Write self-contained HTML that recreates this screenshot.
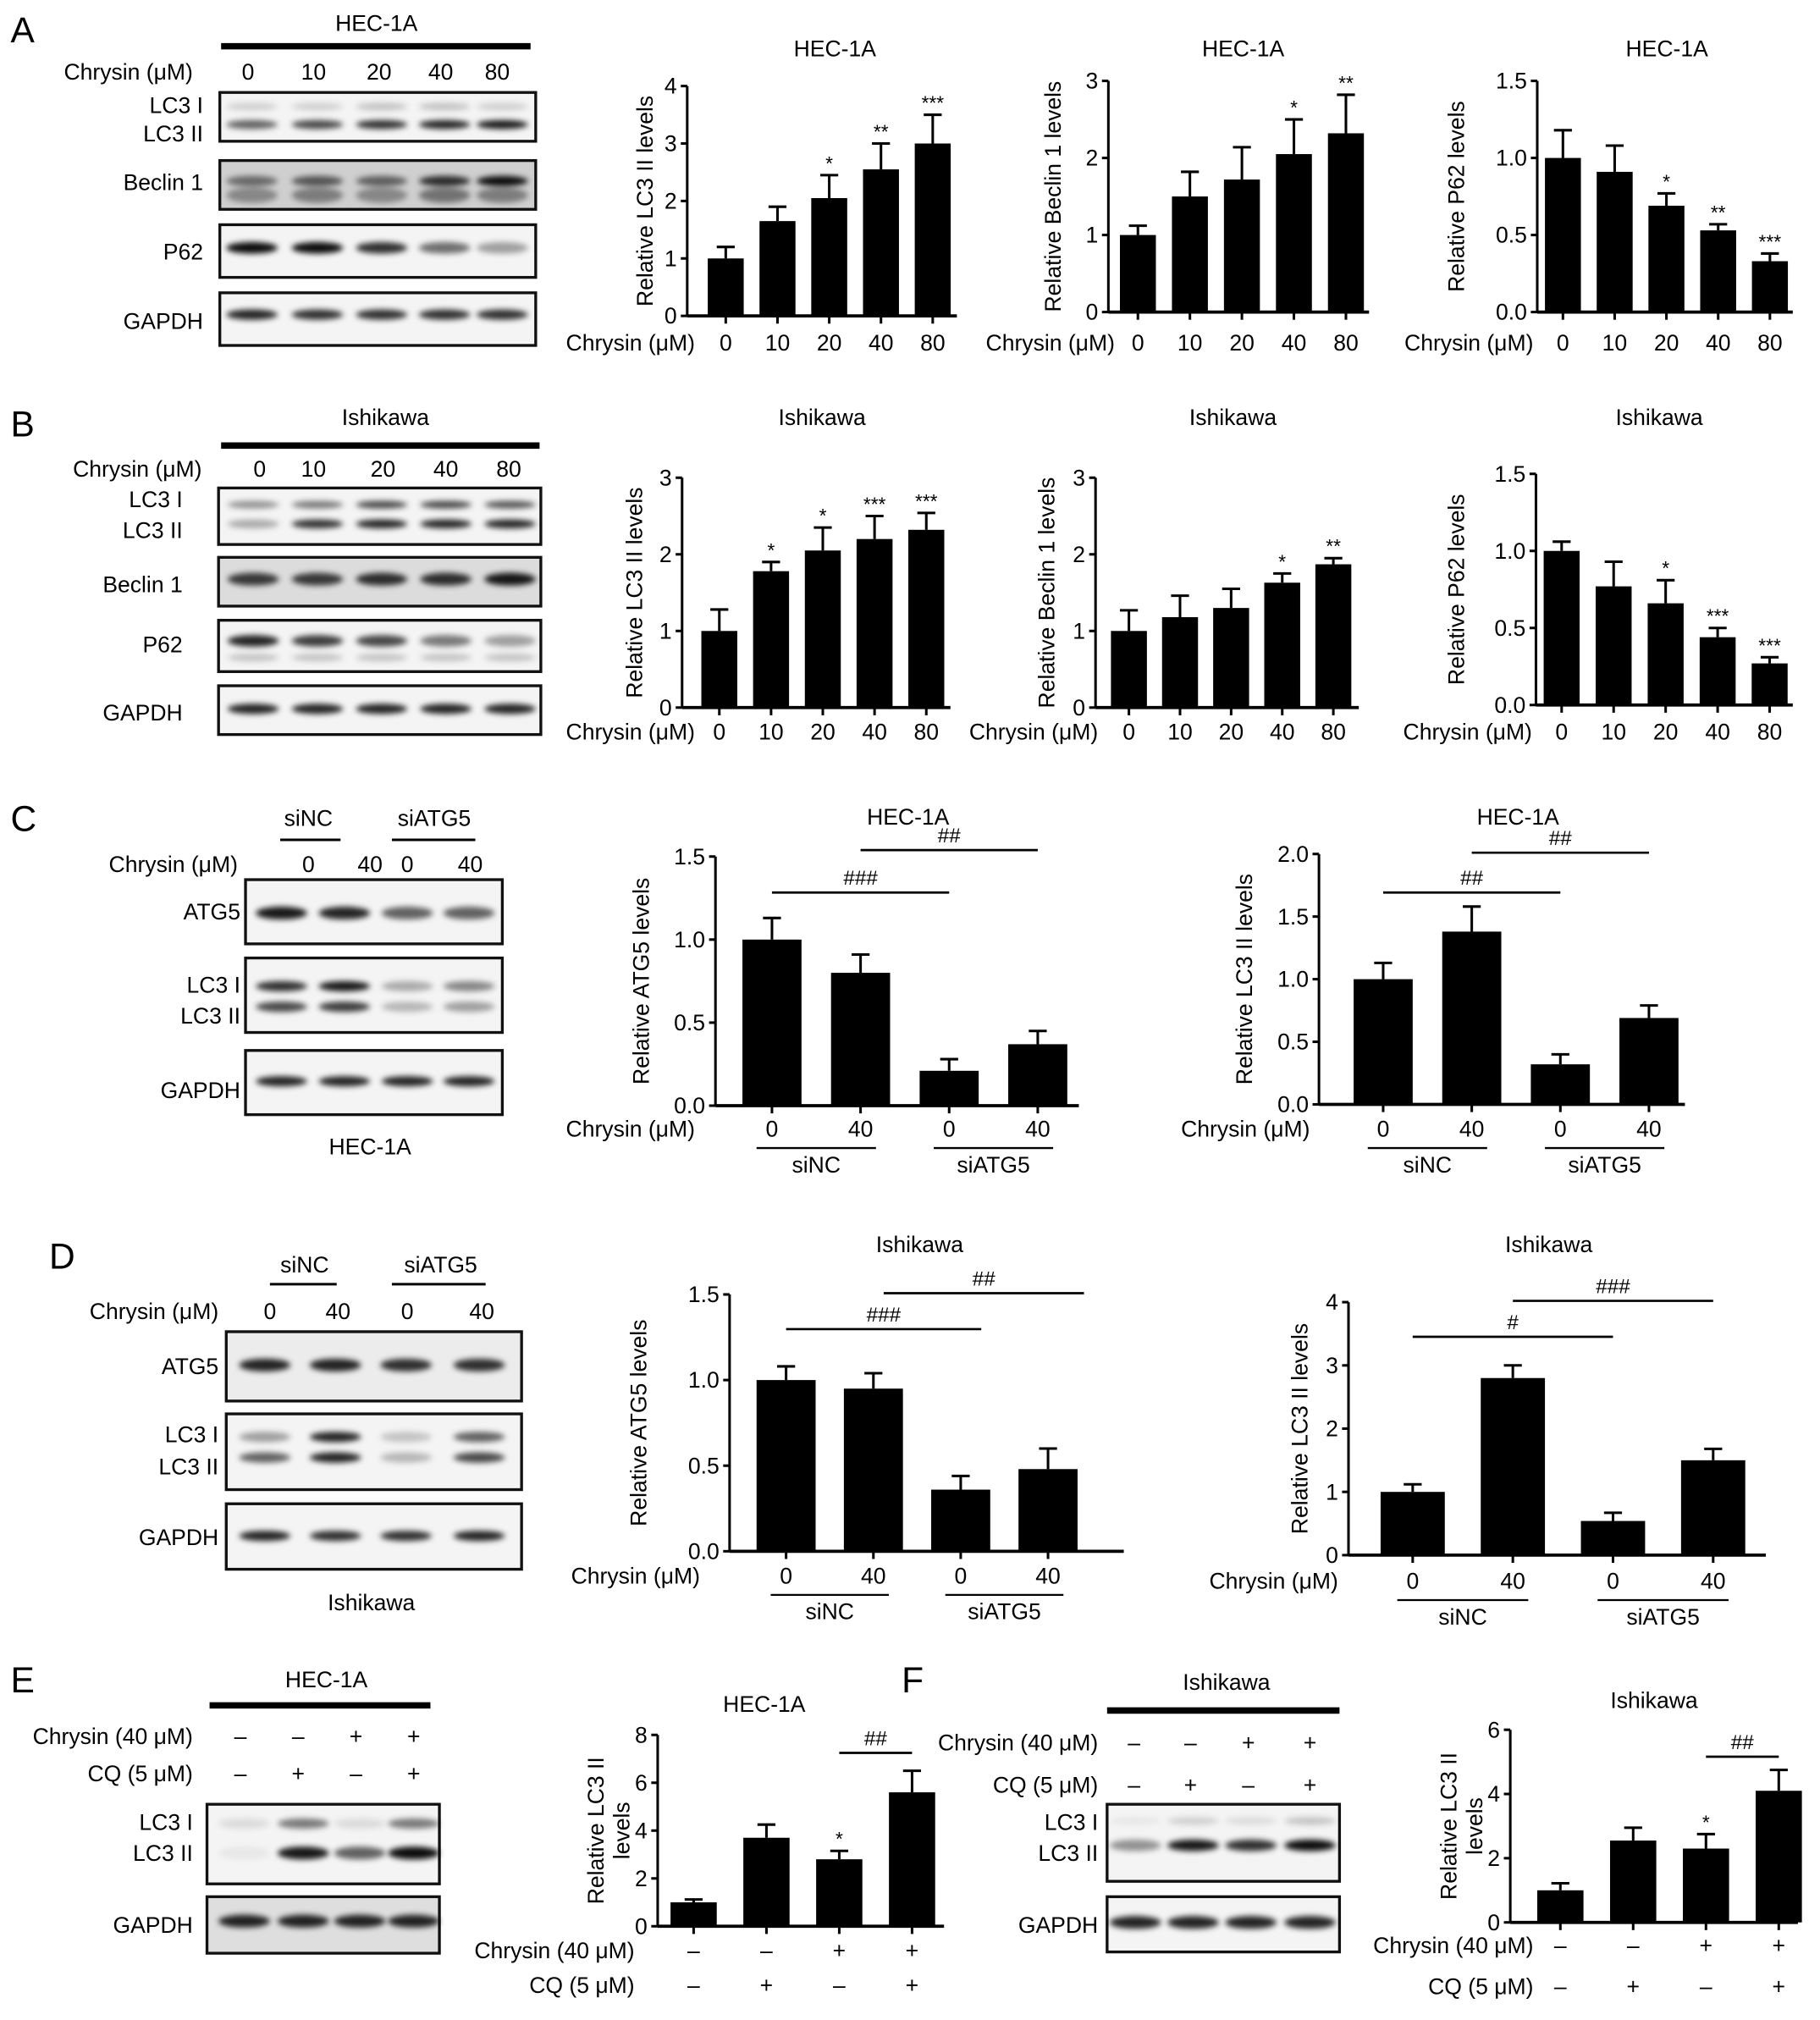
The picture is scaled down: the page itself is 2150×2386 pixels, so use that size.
<!DOCTYPE html>
<html><head><meta charset="utf-8"><style>
html,body{margin:0;padding:0;background:#fff;}
svg{display:block;font-family:"Liberation Sans",sans-serif;}
</style></head><body>
<svg id="fig" width="2150" height="2386" viewBox="0 0 1417 1573" xmlns="http://www.w3.org/2000/svg">
<defs><filter id="bl" x="-20%" y="-100%" width="140%" height="300%"><feGaussianBlur stdDeviation="2.2"/></filter></defs>
</svg>
<script>
// ---------- data ----------
const doseCats = ['0','10','20','40','80'];
const a1Vals = [1.0,1.65,2.05,2.55,3.0];   const a1Errs = [0.2,0.25,0.4,0.45,0.5];   const a1Sig = ['','','*','**','***'];
const a2Vals = [1.0,1.5,1.72,2.05,2.32];   const a2Errs = [0.12,0.32,0.42,0.45,0.5]; const a2Sig = ['','','','*','**'];
const a3Vals = [1.0,0.91,0.69,0.53,0.33];  const a3Errs = [0.18,0.17,0.08,0.04,0.05]; const a3Sig = ['','','*','**','***'];
const b1Vals = [1.0,1.78,2.05,2.2,2.32];   const b1Errs = [0.28,0.12,0.3,0.3,0.22];  const b1Sig = ['','*','*','***','***'];
const b2Vals = [1.0,1.18,1.3,1.63,1.87];   const b2Errs = [0.27,0.28,0.25,0.12,0.08]; const b2Sig = ['','','','*','**'];
const b3Vals = [1.0,0.77,0.66,0.44,0.27];  const b3Errs = [0.06,0.16,0.15,0.06,0.04]; const b3Sig = ['','','*','***','***'];
const siCats = ['0','40','0','40'];
const c1Vals = [1.0,0.8,0.21,0.37];  const c1Errs = [0.13,0.11,0.07,0.08];
const c2Vals = [1.0,1.38,0.32,0.69]; const c2Errs = [0.13,0.2,0.08,0.1];
const d1Vals = [1.0,0.95,0.36,0.48]; const d1Errs = [0.08,0.09,0.08,0.12];
const d2Vals = [1.0,2.8,0.54,1.5];   const d2Errs = [0.12,0.2,0.13,0.18];
const eVals = [1.0,3.7,2.8,5.6];     const eErrs = [0.12,0.55,0.35,0.9]; const eSig = ['','','*',''];
const fVals = [1.0,2.55,2.3,4.1];    const fErrs = [0.22,0.4,0.45,0.65]; const fSig = ['','','*',''];
const chrySigns = ['–','–','+','+'];
const cqSigns = ['–','+','–','+'];
const ticks4 = [0,1,2,3,4], ticks3 = [0,1,2,3], ticks15 = [0,0.5,1.0,1.5], ticks2 = [0,0.5,1.0,1.5,2.0], ticks8 = [0,2,4,6,8], ticks6 = [0,2,4,6];

const svg = document.getElementById('fig');
const NS = 'http://www.w3.org/2000/svg';
function mk(tag, attrs, parent){const e=document.createElementNS(NS,tag);for(const k in attrs)e.setAttribute(k,attrs[k]);(parent||svg).appendChild(e);return e;}
function txt(x,y,s,size,anchor,name,extra){const t=mk('text',Object.assign({x:x,y:y,'font-size':size||17.5,'text-anchor':anchor||'middle',fill:'#000'},extra||{}));t.textContent=s;return t;}
function line(x1,y1,x2,y2,w,name){const l=mk('line',{x1:x1,y1:y1,x2:x2,y2:y2,stroke:'#000','stroke-width':w||2});return l;}

function chart(c){
  const g=mk('g',{});
  
  
  const y=v=>c.bot-(v/c.max)*(c.bot-c.top);
  const bx=i=>c.x0+i*c.step;
  if(c.title) txt(c.titleX,c.titleY,c.title,17.5,'middle',c.name+'-title');
  line(c.ax,c.top,c.ax,c.bot,2,c.name+'-y-axis');
  line(c.ax,c.bot,c.xEnd,c.bot,2.5,c.name+'-x-axis');
  c.ticks.forEach(t=>{line(c.ax-5,y(t),c.ax,y(t),2,'y-tick');txt(c.ax-8,y(t)+6,c.fmt(t),17.5,'end','y-tick-label');});
  const ym=(c.top+c.bot)/2;
  c.ylabel.forEach((s,k)=>{const t=txt(c.ylx+k*20,ym,s,17.5,'middle','y-axis-title');t.setAttribute('transform','rotate(-90 '+(c.ylx+k*20)+' '+ym+')');});
  c.vals.forEach((v,i)=>{
    const x=bx(i);
    const r=mk('rect',{x:x-c.bw/2,y:y(v),width:c.bw,height:c.bot-y(v),fill:'#000'},g);
    
    
    const et=y(v+c.errs[i]);
    line(x,y(v),x,et,2,'error-bar');
    line(x-7,et,x+7,et,2,'error-cap');
    line(x,c.bot,x,c.bot+6,2,'x-tick');
    if(c.sig&&c.sig[i]) txt(x,et-4,c.sig[i],15,'middle','significance-mark');
    if(c.xlab) txt(x,c.xlabY,c.xlab[i],17.5,'middle','x-tick-label');
  });
  if(c.xtitle) txt(c.xtitleX,c.xlabY+(c.xtitleDy||0),c.xtitle,17.5,'end','x-axis-title');
  if(c.groups){
    c.groups.forEach(gr=>{const a=bx(gr.i)-12,b=bx(gr.i+1)+12;line(a,c.xlabY+9,b,c.xlabY+9,1.5,'group-line');txt((a+b)/2,c.xlabY+28,gr.t,17.5,'middle','group-label');});
  }
  if(c.brackets){
    c.brackets.forEach(br=>{const a=bx(br.i)+(br.da||0),b=bx(br.j)+(br.db||0);line(a,br.y,b,br.y,1.8,'comparison-line');txt((a+b)/2,br.y-6,br.t,16,'middle','comparison-label');});
  }
  if(c.rows){
    c.rows.forEach(rw=>{txt(c.xtitleX,rw.y,rw.t,17.5,'end','condition-label');rw.s.forEach((s,i)=>txt(bx(i),rw.y,s,17.5,'middle','condition-sign'));});
  }
}
const f0=t=>String(t), f1=t=>t.toFixed(1);

chart({name:'chart-a-lc3',ax:535,top:67,bot:246,max:4,ticks:ticks4,fmt:f0,x0:565,step:40.3,bw:28,xEnd:745,vals:a1Vals,errs:a1Errs,sig:a1Sig,xlab:doseCats,xlabY:273,xtitle:'Chrysin (μM)',xtitleX:541,title:'HEC-1A',titleX:650,titleY:44,ylabel:['Relative LC3 II levels'],ylx:508});
chart({name:'chart-a-beclin',ax:863,top:63,bot:243,max:3,ticks:ticks3,fmt:f0,x0:886,step:40.5,bw:28,xEnd:1066,vals:a2Vals,errs:a2Errs,sig:a2Sig,xlab:doseCats,xlabY:273,xtitle:'Chrysin (μM)',xtitleX:868,title:'HEC-1A',titleX:968,titleY:44,ylabel:['Relative Beclin 1 levels'],ylx:826});
chart({name:'chart-a-p62',ax:1197,top:63,bot:243,max:1.5,ticks:ticks15,fmt:f1,x0:1217,step:40.3,bw:28,xEnd:1396,vals:a3Vals,errs:a3Errs,sig:a3Sig,xlab:doseCats,xlabY:273,xtitle:'Chrysin (μM)',xtitleX:1194,title:'HEC-1A',titleX:1298,titleY:44,ylabel:['Relative P62 levels'],ylx:1140});
chart({name:'chart-b-lc3',ax:531,top:372,bot:551,max:3,ticks:ticks3,fmt:f0,x0:560,step:40.3,bw:28,xEnd:740,vals:b1Vals,errs:b1Errs,sig:b1Sig,xlab:doseCats,xlabY:576,xtitle:'Chrysin (μM)',xtitleX:541,title:'Ishikawa',titleX:640,titleY:331,ylabel:['Relative LC3 II levels'],ylx:500});
chart({name:'chart-b-beclin',ax:853,top:372,bot:551,max:3,ticks:ticks3,fmt:f0,x0:879,step:39.8,bw:28,xEnd:1058,vals:b2Vals,errs:b2Errs,sig:b2Sig,xlab:doseCats,xlabY:576,xtitle:'Chrysin (μM)',xtitleX:855,title:'Ishikawa',titleX:960,titleY:331,ylabel:['Relative Beclin 1 levels'],ylx:821});
chart({name:'chart-b-p62',ax:1196,top:369,bot:549,max:1.5,ticks:ticks15,fmt:f1,x0:1216,step:40.5,bw:28,xEnd:1396,vals:b3Vals,errs:b3Errs,sig:b3Sig,xlab:doseCats,xlabY:576,xtitle:'Chrysin (μM)',xtitleX:1193,title:'Ishikawa',titleX:1292,titleY:331,ylabel:['Relative P62 levels'],ylx:1140});
chart({name:'chart-c-atg5',ax:557,top:667,bot:861,max:1.5,ticks:ticks15,fmt:f1,x0:601,step:69,bw:46,xEnd:840,vals:c1Vals,errs:c1Errs,xlab:siCats,xlabY:885,xtitle:'Chrysin (μM)',xtitleX:541,title:'HEC-1A',titleX:707,titleY:642,ylabel:['Relative ATG5 levels'],ylx:505,groups:[{i:0,t:'siNC'},{i:2,t:'siATG5'}],brackets:[{i:0,j:2,y:695,t:'###'},{i:1,j:3,y:662,t:'##'}]});
chart({name:'chart-c-lc3',ax:1027,top:665,bot:860,max:2,ticks:ticks2,fmt:f1,x0:1077,step:69,bw:46,xEnd:1312,vals:c2Vals,errs:c2Errs,xlab:siCats,xlabY:885,xtitle:'Chrysin (μM)',xtitleX:1020,title:'HEC-1A',titleX:1182,titleY:642,ylabel:['Relative LC3 II levels'],ylx:975,groups:[{i:0,t:'siNC'},{i:2,t:'siATG5'}],brackets:[{i:0,j:2,y:695,t:'##'},{i:1,j:3,y:664,t:'##'}]});
chart({name:'chart-d-atg5',ax:568,top:1008,bot:1208,max:1.5,ticks:ticks15,fmt:f1,x0:612,step:68,bw:46,xEnd:875,vals:d1Vals,errs:d1Errs,xlab:siCats,xlabY:1233,xtitle:'Chrysin (μM)',xtitleX:545,title:'Ishikawa',titleX:716,titleY:975,ylabel:['Relative ATG5 levels'],ylx:503,groups:[{i:0,t:'siNC'},{i:2,t:'siATG5'}],brackets:[{i:0,j:2,y:1035,t:'###',db:16},{i:1,j:3,y:1007,t:'##',da:8,db:28}]});
chart({name:'chart-d-lc3',ax:1050,top:1014,bot:1211,max:4,ticks:ticks4,fmt:f0,x0:1100,step:78,bw:50,xEnd:1375,vals:d2Vals,errs:d2Errs,xlab:siCats,xlabY:1237,xtitle:'Chrysin (μM)',xtitleX:1042,title:'Ishikawa',titleX:1206,titleY:975,ylabel:['Relative LC3 II levels'],ylx:1018,groups:[{i:0,t:'siNC'},{i:2,t:'siATG5'}],brackets:[{i:0,j:2,y:1041,t:'#'},{i:1,j:3,y:1013,t:'###'}]});
chart({name:'chart-e-lc3',ax:512,top:1351,bot:1500,max:8,ticks:ticks8,fmt:f0,x0:540,step:56.7,bw:36,xEnd:735,vals:eVals,errs:eErrs,sig:eSig,xtitleX:494,title:'HEC-1A',titleX:595,titleY:1333,ylabel:['Relative LC3 II','levels'],ylx:470,brackets:[{i:2,j:3,y:1365,t:'##'}],rows:[{y:1525,t:'Chrysin (40 μM)',s:chrySigns},{y:1552,t:'CQ (5 μM)',s:cqSigns}]});
chart({name:'chart-f-lc3',ax:1176,top:1347,bot:1497,max:6,ticks:ticks6,fmt:f0,x0:1215,step:56.7,bw:36,xEnd:1400,vals:fVals,errs:fErrs,sig:fSig,xtitleX:1194,title:'Ishikawa',titleX:1288,titleY:1330,ylabel:['Relative LC3 II','levels'],ylx:1134,brackets:[{i:2,j:3,y:1368,t:'##'}],rows:[{y:1521,t:'Chrysin (40 μM)',s:chrySigns},{y:1553,t:'CQ (5 μM)',s:cqSigns}]});

// ---------- blots ----------
function blot(name,x1,x2,y1,y2,lanes,bands,bg){
  const r=mk('rect',{x:x1,y:y1,width:x2-x1,height:y2-y1,fill:bg||'#f4f4f4',stroke:'#111','stroke-width':2.2});
  
  
  bands.forEach(b=>{lanes.forEach((lx,i)=>{const d=b.d[i];if(d<=0)return;
    const e=mk('ellipse',{cx:lx,cy:b.y,rx:b.w||20,ry:b.h||4,fill:'#000','fill-opacity':d,filter:'url(#bl)'});
    
    });});
}
function labelsR(x,items){items.forEach(it=>txt(x,it[1],it[0],17.5,'end','blot-label'));}
function header(lx,ly,letter){txt(lx,ly,letter,28,'start','panel-label');}

header(8,33,'A');
txt(293,24,'HEC-1A',17.5,'middle','cell-line-title');line(172,36,413,36,5,'header-bar');
txt(150,62,'Chrysin (μM)',17.5,'end','treatment-label');
[193,244,295,343,387].forEach((x,i)=>txt(x,62,doseCats[i],17.5,'middle','lane-label'));
blot('blot-a-lc3',171,417,72,110,[196,247,297,346,391],[{y:83,d:[.15,.15,.2,.2,.15],h:3},{y:97,d:[.6,.7,.8,.85,.9],h:3.5}]);
blot('blot-a-beclin',171,417,125,163,[196,247,297,346,391],[{y:141,d:[.5,.6,.55,.8,.95],h:4},{y:152,d:[.35,.4,.35,.45,.4],h:6}],'#cfcfcf');
blot('blot-a-p62',171,417,175,216,[196,247,297,346,391],[{y:193,d:[.95,.95,.8,.55,.35],h:4.5}]);
blot('blot-a-gapdh',171,417,228,269,[196,247,297,346,391],[{y:245,d:[.85,.8,.8,.8,.8],h:4}]);
labelsR(158,[['LC3 I',88],['LC3 II',110],['Beclin 1',148],['P62',202],['GAPDH',256]]);

header(8,340,'B');
txt(300,331,'Ishikawa',17.5,'middle','cell-line-title');line(172,347,420,347,5,'header-bar');
txt(157,371,'Chrysin (μM)',17.5,'end','treatment-label');
[202,244,298,347,396].forEach((x,i)=>txt(x,371,doseCats[i],17.5,'middle','lane-label'));
const bL=[197,247,297,347,397];
blot('blot-b-lc3',170,421,380,424,bL,[{y:393,d:[.4,.5,.7,.7,.65],h:3},{y:408,d:[.3,.8,.85,.85,.85],h:3.5}]);
blot('blot-b-beclin',170,421,434,472,bL,[{y:451,d:[.75,.75,.8,.8,.9],h:5}],'#dcdcdc');
blot('blot-b-p62',170,421,483,523,bL,[{y:499,d:[.85,.75,.7,.5,.35],h:4.5},{y:512,d:[.2,.2,.2,.2,.2],h:3}]);
blot('blot-b-gapdh',170,421,534,572,bL,[{y:552,d:[.85,.85,.85,.85,.85],h:4}]);
labelsR(142,[['LC3 I',395],['LC3 II',419],['Beclin 1',461],['P62',508],['GAPDH',561]]);

header(8,647,'C');
txt(240,643,'siNC',17.5,'middle','group-label');line(218,654,265,654,2,'group-line');
txt(338,643,'siATG5',17.5,'middle','group-label');line(305,654,370,654,2,'group-line');
txt(185,679,'Chrysin (μM)',17.5,'end','treatment-label');
[240,288,317,366].forEach((x,i)=>txt(x,679,siCats[i],17.5,'middle','lane-label'));
const cL=[219,268,317,365];
blot('blot-c-atg5',191,391,685,735,cL,[{y:711,d:[.9,.85,.6,.6],h:5}]);
blot('blot-c-lc3',191,391,746,804,cL,[{y:768,d:[.8,.9,.3,.45],h:4},{y:784,d:[.7,.75,.25,.35],h:4}]);
blot('blot-c-gapdh',191,391,818,868,cL,[{y:842,d:[.85,.85,.85,.85],h:4}]);
labelsR(187,[['ATG5',716],['LC3 I',773],['LC3 II',797],['GAPDH',855]]);
txt(288,899,'HEC-1A',17.5,'middle','blot-caption');

header(38,988,'D');
txt(237,991,'siNC',17.5,'middle','group-label');line(210,1000,262,1000,2,'group-line');
txt(343,991,'siATG5',17.5,'middle','group-label');line(305,1000,378,1000,2,'group-line');
txt(170,1027,'Chrysin (μM)',17.5,'end','treatment-label');
[210,263,317,375].forEach((x,i)=>txt(x,1027,siCats[i],17.5,'middle','lane-label'));
const dL=[206,261,316,373];
blot('blot-d-atg5',176,406,1037,1091,dL,[{y:1063,d:[.85,.85,.8,.8],h:5}],'#ececec');
blot('blot-d-lc3',176,406,1101,1160,dL,[{y:1119,d:[.35,.85,.2,.6],h:4},{y:1135,d:[.6,.85,.25,.7],h:4}]);
blot('blot-d-gapdh',176,406,1171,1222,dL,[{y:1196,d:[.85,.8,.8,.85],h:4}]);
labelsR(170,[['ATG5',1070],['LC3 I',1123],['LC3 II',1148],['GAPDH',1203]]);
txt(289,1254,'Ishikawa',17.5,'middle','blot-caption');

header(8,1318,'E');
txt(254,1314,'HEC-1A',17.5,'middle','cell-line-title');line(163,1328,335,1328,5,'header-bar');
const eL=[187,232,277,322];
txt(150,1358,'Chrysin (40 μM)',17.5,'end','treatment-label');chrySigns.forEach((s,i)=>txt(eL[i],1358,s,17.5,'middle','lane-sign'));
txt(150,1387,'CQ (5 μM)',17.5,'end','treatment-label');cqSigns.forEach((s,i)=>txt(eL[i],1387,s,17.5,'middle','lane-sign'));
const eB=[190,236,280,322];
blot('blot-e-lc3',161,342,1405,1467,eB,[{y:1420,d:[.1,.5,.1,.5],h:4},{y:1443,d:[.05,.9,.6,.95],h:5}]);
blot('blot-e-gapdh',161,342,1477,1521,eB,[{y:1496,d:[.85,.85,.85,.85],h:5}],'#dedede');
labelsR(150,[['LC3 I',1425],['LC3 II',1449],['GAPDH',1505]]);

header(702,1318,'F');
txt(955,1316,'Ishikawa',17.5,'middle','cell-line-title');line(862,1332,1043,1332,5,'header-bar');
const fL=[883,927,972,1020];
txt(855,1363,'Chrysin (40 μM)',17.5,'end','treatment-label');chrySigns.forEach((s,i)=>txt(fL[i],1363,s,17.5,'middle','lane-sign'));
txt(855,1396,'CQ (5 μM)',17.5,'end','treatment-label');cqSigns.forEach((s,i)=>txt(fL[i],1396,s,17.5,'middle','lane-sign'));
const fB=[884,929,974,1020];
blot('blot-f-lc3',862,1043,1405,1465,fB,[{y:1418,d:[.05,.15,.1,.2],h:3},{y:1437,d:[.4,.9,.8,.95],h:4.5}]);
blot('blot-f-gapdh',862,1043,1477,1520,fB,[{y:1497,d:[.85,.85,.85,.85],h:5}]);
labelsR(855,[['LC3 I',1425],['LC3 II',1449],['GAPDH',1505]]);
</script>
</body></html>
